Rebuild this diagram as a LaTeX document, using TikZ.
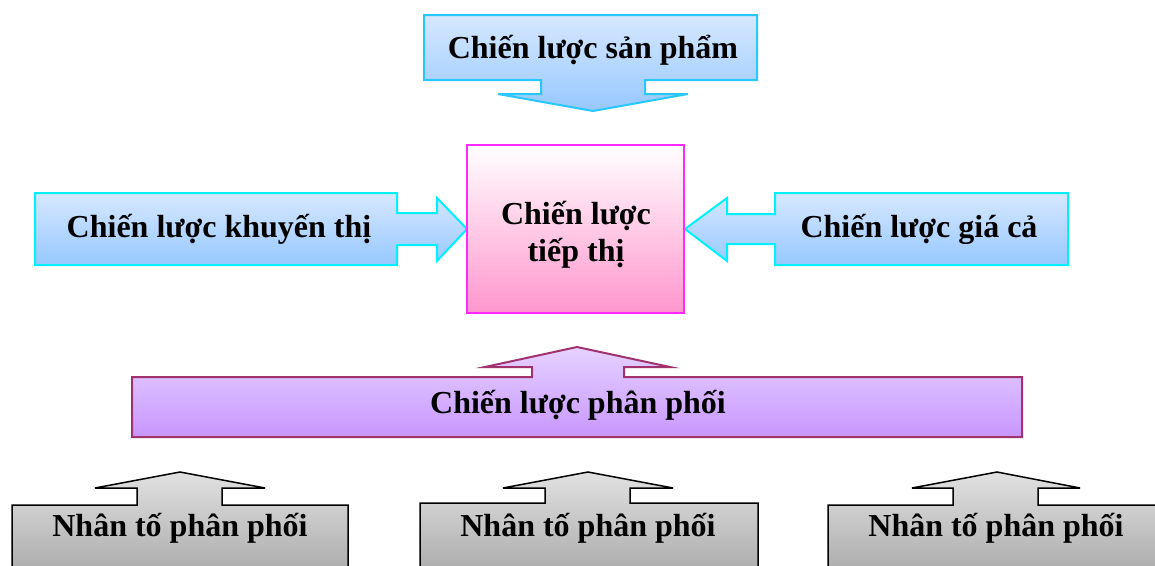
\documentclass[tikz,border=0pt]{standalone}
\usepackage{fontspec}
\setmainfont{Liberation Serif}
\definecolor{bluetop}{RGB}{215,232,255}
\definecolor{bluebot}{RGB}{150,200,255}
\definecolor{borderA}{RGB}{40,200,255}
\definecolor{borderB}{RGB}{0,240,255}
\definecolor{pinkbot}{RGB}{255,150,205}
\definecolor{pinkline}{RGB}{255,40,255}
\definecolor{purptop}{RGB}{230,210,255}
\definecolor{purpbot}{RGB}{200,150,255}
\definecolor{purpline}{RGB}{160,50,110}
\definecolor{graytop}{RGB}{225,225,225}
\definecolor{graybot}{RGB}{170,170,170}
\tikzset{
  bluebox/.style={line width=2pt, line join=miter, top color=bluetop, middle color=white, bottom color=bluebot},
  pinkbox/.style={line width=2pt, draw=pinkline, top color=white, bottom color=pinkbot},
  purpbox/.style={line width=2pt, draw=purpline, top color=purptop, middle color=white, bottom color=purpbot},
  graybox/.style={line width=1.5pt, draw=black, top color=graytop, middle color=white, bottom color=graybot},
  lbl/.style={font=\fontsize{32}{36}\selectfont\bfseries, inner sep=0pt, anchor=base, align=center}
}
\begin{document}
\begin{tikzpicture}[x=1pt,y=-1pt]
\useasboundingbox (0,0) rectangle (1155,565);
\fill[white] (0,0) rectangle (1155,565);
% top
\path[bluebox, draw=borderA] (424,15) -- (757,15) -- (757,80) -- (645,80) -- (645,94) -- (688,94) -- (593,111) -- (498,94) -- (541,94) -- (541,80) -- (424,80) -- cycle;
\node[lbl] (sp) at (593,58) {Chiến lược sản phẩm};
% left
\path[bluebox, draw=borderB] (35,193) -- (397,193) -- (397,213) -- (437,213) -- (437,198) -- (467,229) -- (437,261) -- (437,245) -- (397,245) -- (397,265) -- (35,265) -- cycle;
\node[lbl] (kt) at (219,237) {Chiến lược khuyến thị};
% right
\path[bluebox, draw=borderB] (1068,193) -- (775,193) -- (775,214) -- (727,214) -- (727,198) -- (685,229) -- (727,261) -- (727,244) -- (775,244) -- (775,265) -- (1068,265) -- cycle;
\node[lbl] (gc) at (919,237) {Chiến lược giá cả};
% center
\path[pinkbox] (467,145) rectangle (684,313);
\node[lbl] (tt1) at (576,224) {Chiến lược};
\node[lbl] (tt2) at (576,261) {tiếp thị};
% purple
\path[purpbox] (132,377) -- (532,377) -- (532,367) -- (485,367) -- (577,347) -- (670,367) -- (624,367) -- (624,377) -- (1022,377) -- (1022,437) -- (132,437) -- cycle;
\node[lbl] (pp) at (578,413) {Chiến lược phân phối};
% bottom
\path[graybox] (12,575) -- (12,505) -- (137,505) -- (137,488) -- (95,488) -- (180,472) -- (265,488) -- (222,488) -- (222,505) -- (348,505) -- (348,575);
\node[lbl] (n1) at (180,536) {Nhân tố phân phối};
\path[graybox] (420,575) -- (420,503) -- (545,503) -- (545,488) -- (503,488) -- (588,472) -- (673,488) -- (630,488) -- (630,503) -- (758,503) -- (758,575);
\node[lbl] (n2) at (588,536) {Nhân tố phân phối};
\path[graybox] (828,575) -- (828,505) -- (953,505) -- (953,488) -- (912,488) -- (997,472) -- (1080,488) -- (1038,488) -- (1038,505) -- (1170,505) -- (1170,575);
\node[lbl] (n3) at (996,536) {Nhân tố phân phối};
\end{tikzpicture}
\end{document}
